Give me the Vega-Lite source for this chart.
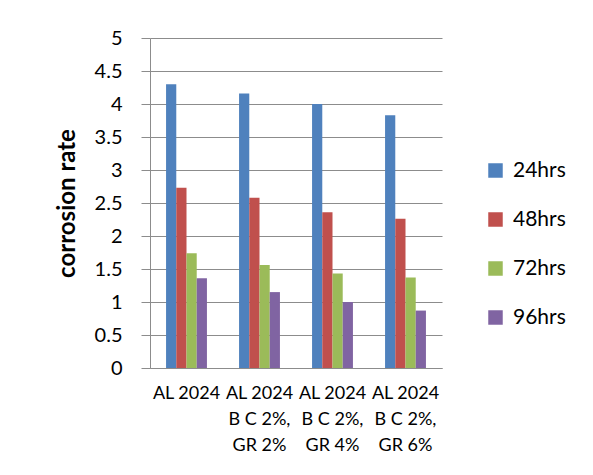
{
  "$schema": "https://vega.github.io/schema/vega-lite/v6.json",
  "width": 292,
  "height": 330,
  "autosize": {"type": "none"},
  "padding": {"left": 150, "top": 38, "right": 151, "bottom": 107},
  "background": "white",
  "config": {"font": "Lato", "view": {"stroke": null}},
  "data": {
    "values": [
      {"sample": "AL 2024", "time": "24hrs", "rate": 4.3},
      {"sample": "AL 2024", "time": "48hrs", "rate": 2.73},
      {"sample": "AL 2024", "time": "72hrs", "rate": 1.74},
      {"sample": "AL 2024", "time": "96hrs", "rate": 1.36},
      {"sample": "AL 2024\nB C 2%,\nGR 2%", "time": "24hrs", "rate": 4.16},
      {"sample": "AL 2024\nB C 2%,\nGR 2%", "time": "48hrs", "rate": 2.58},
      {"sample": "AL 2024\nB C 2%,\nGR 2%", "time": "72hrs", "rate": 1.56},
      {"sample": "AL 2024\nB C 2%,\nGR 2%", "time": "96hrs", "rate": 1.15},
      {"sample": "AL 2024\nB C 2%,\nGR 4%", "time": "24hrs", "rate": 4.0},
      {"sample": "AL 2024\nB C 2%,\nGR 4%", "time": "48hrs", "rate": 2.36},
      {"sample": "AL 2024\nB C 2%,\nGR 4%", "time": "72hrs", "rate": 1.43},
      {"sample": "AL 2024\nB C 2%,\nGR 4%", "time": "96hrs", "rate": 1.0},
      {"sample": "AL 2024\nB C 2%,\nGR 6%", "time": "24hrs", "rate": 3.83},
      {"sample": "AL 2024\nB C 2%,\nGR 6%", "time": "48hrs", "rate": 2.26},
      {"sample": "AL 2024\nB C 2%,\nGR 6%", "time": "72hrs", "rate": 1.37},
      {"sample": "AL 2024\nB C 2%,\nGR 6%", "time": "96hrs", "rate": 0.87}
    ]
  },
  "mark": {"type": "bar"},
  "encoding": {
    "x": {
      "field": "sample",
      "type": "nominal",
      "sort": null,
      "scale": {"paddingInner": 0.44, "paddingOuter": 0.22},
      "axis": {
        "title": null,
        "labelAngle": 0,
        "labelExpr": "split(datum.value, '\\n')",
        "labelFontSize": 18,
        "labelLineHeight": 26,
        "labelPadding": 16,
        "labelColor": "black",
        "labelOverlap": false,
        "labelBound": false,
        "labelLimit": 300,
        "ticks": false,
        "domainColor": "#8c8c8c"
      }
    },
    "xOffset": {"field": "time", "type": "nominal", "sort": null, "scale": {"paddingInner": 0}},
    "y": {
      "field": "rate",
      "type": "quantitative",
      "scale": {"domain": [0, 5], "nice": false},
      "axis": {
        "title": "corrosion rate",
        "titleFontSize": 24,
        "titleFontWeight": "bold",
        "titleColor": "black",
        "titlePadding": 15,
        "values": [0, 0.5, 1, 1.5, 2, 2.5, 3, 3.5, 4, 4.5, 5],
        "format": "~g",
        "labelFontSize": 20,
        "labelColor": "black",
        "labelPadding": 19,
        "tickSize": 9,
        "tickColor": "#8c8c8c",
        "domainColor": "#8c8c8c",
        "gridColor": "#8c8c8c",
        "grid": true
      }
    },
    "color": {
      "field": "time",
      "type": "nominal",
      "sort": null,
      "scale": {"range": ["#4f81bd", "#c0504d", "#9bbb59", "#8064a2"]},
      "legend": {
        "title": null,
        "orient": "none",
        "legendX": 335,
        "legendY": 122,
        "symbolType": "square",
        "symbolSize": 210,
        "symbolStrokeWidth": 0,
        "labelFontSize": 21,
        "labelColor": "black",
        "labelOffset": 7,
        "rowPadding": 27
      }
    }
  }
}
